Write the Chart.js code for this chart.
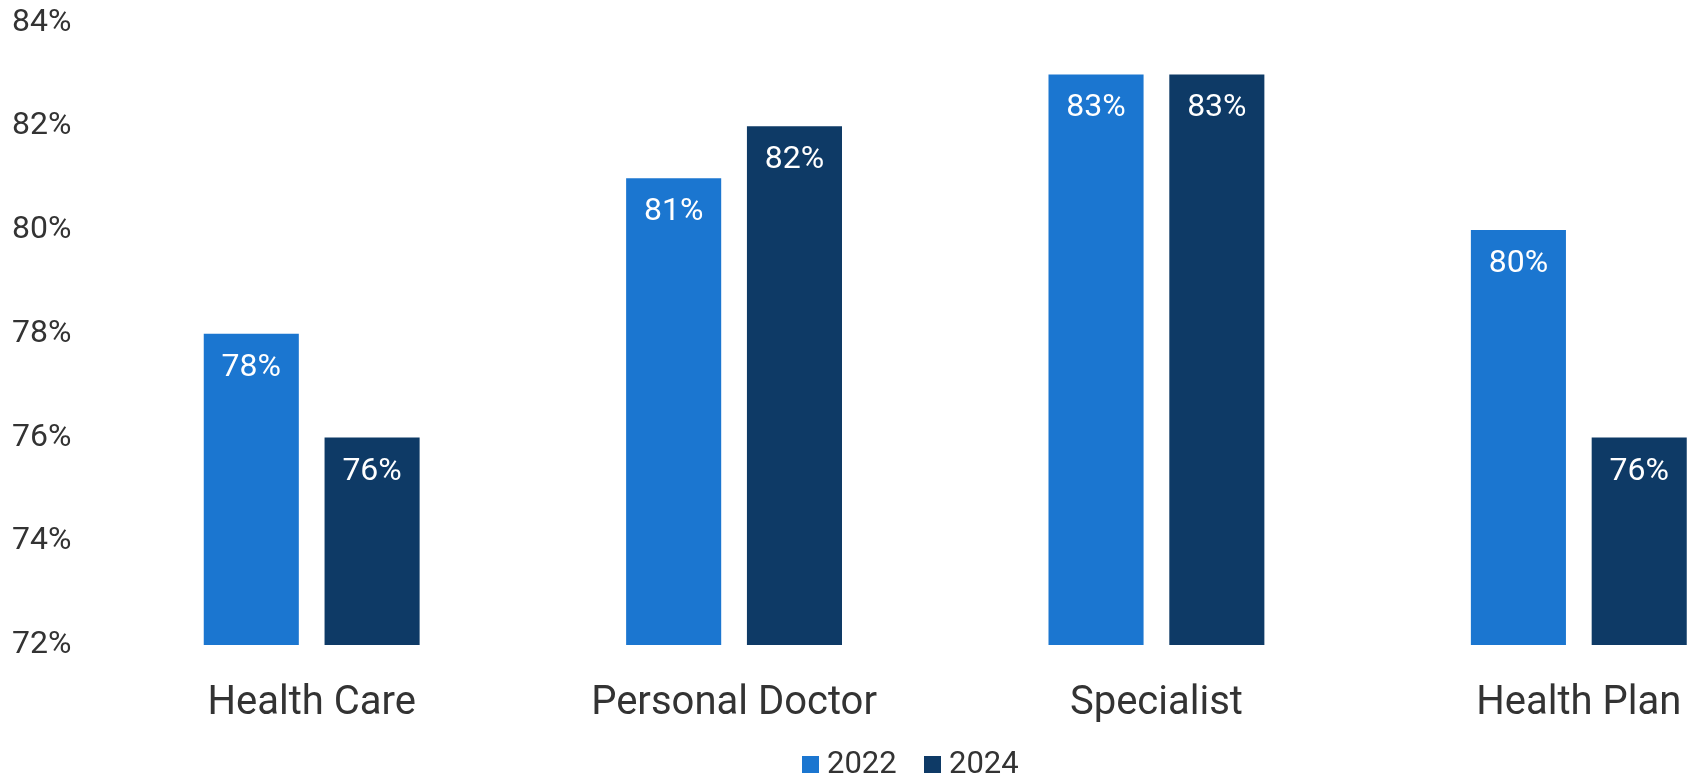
<!DOCTYPE html>
<html>
<head>
<meta charset="utf-8">
<script src="https://cdn.jsdelivr.net/npm/chart.js@4.4.1/dist/chart.umd.min.js"></script>
<style>
  html, body { margin: 0; padding: 0; background: #ffffff; overflow: hidden; width: 1691px; height: 778px; }
  #wrap { position: relative; width: 1822px; height: 778px; }
  #legend { position: absolute; left: 0; top: 0; width: 1822px; height: 778px; pointer-events: none; }
  .lg-box { position: absolute; width: 17px; height: 17px; top: 756px; }
  .lg-text { position: absolute; top: 747px; font-family: Roboto, sans-serif; font-size: 31px; line-height: 31px; color: #333333; white-space: nowrap; }
</style>
</head>
<body>
<div id="wrap">
  <canvas id="c" width="1822" height="778"></canvas>
  <div id="legend"></div>
</div>
<script>
const categories = ["Health Care", "Personal Doctor", "Specialist", "Health Plan"];
const seriesNames = ["2022", "2024"];
const values2022 = [78, 81, 83, 80];
const values2024 = [76, 82, 83, 76];
const yTicks = [72, 74, 76, 78, 80, 82, 84];
const colors = ["#1B76D0", "#0E3A66"];

const textColor = "#333333";

const barLabels = {
  id: "barLabels",
  afterDatasetsDraw(chart) {
    const ctx = chart.ctx;
    ctx.save();
    ctx.font = "32px Roboto";
    ctx.fillStyle = "#ffffff";
    ctx.textAlign = "center";
    ctx.textBaseline = "middle";
    chart.data.datasets.forEach((ds, di) => {
      const meta = chart.getDatasetMeta(di);
      meta.data.forEach((bar, i) => {
        ctx.fillText(ds.data[i] + "%", bar.x, bar.y + 34);
      });
    });
    ctx.restore();
  }
};

const chart = new Chart(document.getElementById("c"), {
  type: "bar",
  data: {
    labels: categories,
    datasets: [
      { label: seriesNames[0], data: values2022, backgroundColor: colors[0], barPercentage: 0.787, categoryPercentage: 0.572 },
      { label: seriesNames[1], data: values2024, backgroundColor: colors[1], barPercentage: 0.787, categoryPercentage: 0.572 }
    ]
  },
  options: {
    responsive: false,
    devicePixelRatio: 1,
    animation: false,
    layout: { padding: { left: 12, right: 32, top: 0, bottom: 56 } },
    plugins: {
      legend: { display: false },
      tooltip: { enabled: false }
    },
    scales: {
      x: {
        offset: true,
        grid: { display: false, drawTicks: false },
        border: { display: false },
        ticks: { font: { family: "Roboto", size: 40 }, color: textColor, padding: 35, maxRotation: 0 },
        afterFit(scale) { scale.height = 77; scale.paddingLeft = 0; scale.paddingRight = 0; }
      },
      y: {
        min: yTicks[0],
        max: yTicks[yTicks.length - 1],
        afterBuildTicks(scale) { scale.ticks = yTicks.map(v => ({ value: v })); },
        grid: { display: false, drawTicks: false },
        border: { display: false },
        ticks: { font: { family: "Roboto", size: 32 }, color: textColor, padding: 29, callback: v => v + "%" },
        afterFit(scale) { scale.width = 88.5; scale.paddingTop = 22.5; scale.paddingBottom = 0; }
      }
    }
  },
  plugins: [barLabels]
});

// Legend built from the series names and colours
const legend = document.getElementById("legend");
const legendPos = [[802, 827], [924, 949]];
seriesNames.forEach((name, i) => {
  const b = document.createElement("div");
  b.className = "lg-box";
  b.style.left = legendPos[i][0] + "px";
  b.style.background = colors[i];
  legend.appendChild(b);
  const t = document.createElement("div");
  t.className = "lg-text";
  t.style.left = legendPos[i][1] + "px";
  t.textContent = name;
  legend.appendChild(t);
});
</script>
</body>
</html>
